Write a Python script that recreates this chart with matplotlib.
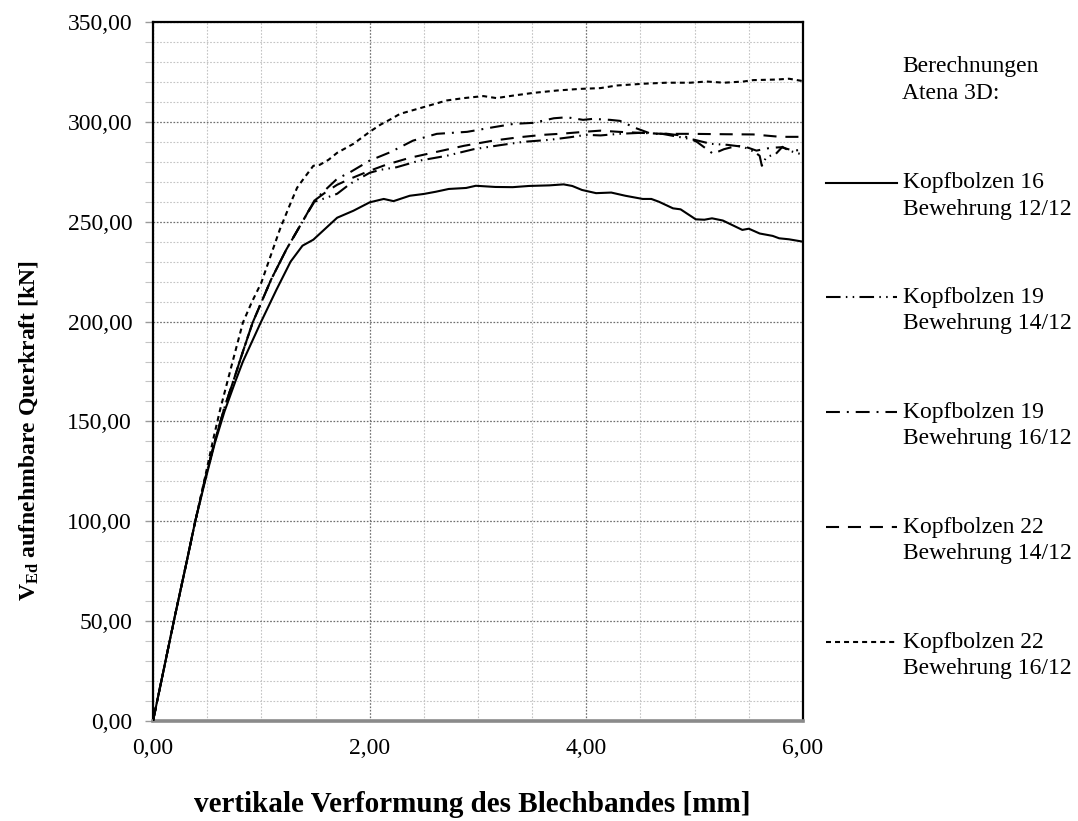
import matplotlib
matplotlib.use("Agg")
import matplotlib.pyplot as plt
import numpy as np
from matplotlib.lines import Line2D
from matplotlib.legend_handler import HandlerLine2D
from matplotlib.ticker import MultipleLocator, FuncFormatter

# Load-deformation curves (deformation [mm], shear force [kN])
kb16_b12 = [(0, 0), (0.10, 26), (0.20, 52), (0.30, 77), (0.39, 100), (0.48, 120),
            (0.57, 139), (0.66, 155), (0.76, 170), (0.83, 180), (0.99, 199), (1.14, 216),
            (1.27, 230), (1.38, 238), (1.48, 241), (1.54, 244), (1.70, 252), (1.85, 255.5),
            (2.00, 259.7), (2.13, 261.4), (2.22, 260.3), (2.37, 263), (2.50, 263.9),
            (2.61, 265), (2.73, 266.4), (2.89, 266.9), (2.98, 268), (3.16, 267.4),
            (3.32, 267.3), (3.47, 267.9), (3.66, 268.2), (3.79, 268.7), (3.87, 267.9),
            (3.96, 265.9), (4.09, 264.3), (4.23, 264.6), (4.36, 263), (4.52, 261.4),
            (4.60, 261.4), (4.67, 260), (4.80, 256.7), (4.87, 256.2), (5.01, 251.2),
            (5.09, 251), (5.16, 251.7), (5.26, 250.6), (5.44, 245.9), (5.50, 246.5),
            (5.60, 244.1), (5.72, 242.9), (5.78, 241.7), (5.87, 241.2), (6.00, 240)]

kb19_b14 = [(0, 0), (0.10, 26), (0.20, 52), (0.30, 77), (0.39, 100), (0.48, 121),
            (0.57, 140), (0.66, 157), (0.74, 170), (0.83, 185), (0.92, 199.5), (1.09, 221),
            (1.23, 236), (1.39, 251), (1.49, 260), (1.60, 262), (1.70, 264), (1.82, 269),
            (2.00, 274.5), (2.10, 276), (2.25, 277.3), (2.46, 280.6), (2.71, 283),
            (2.96, 286.3), (3.20, 288.3), (3.42, 290), (3.66, 291), (3.85, 292.3),
            (4.00, 293.5), (4.13, 293.2), (4.30, 294), (4.50, 294.5), (4.70, 294),
            (4.85, 292.5), (5.00, 291), (5.15, 289), (5.30, 288.5), (5.45, 287.5),
            (5.55, 285), (5.60, 283), (5.62, 278), (5.66, 282.3), (5.75, 284),
            (5.81, 287.5), (5.87, 285.6), (5.97, 284), (6.00, 284.5)]

kb19_b16 = [(0, 0), (0.10, 26), (0.20, 52), (0.30, 77), (0.39, 100), (0.48, 121),
            (0.57, 140), (0.66, 157), (0.74, 170), (0.83, 185), (0.92, 199.5), (1.09, 221),
            (1.23, 236), (1.39, 251), (1.49, 260.6), (1.60, 266.4), (1.70, 271.5),
            (1.82, 274.8), (2.00, 280.6), (2.19, 284.8), (2.40, 290.6), (2.62, 294),
            (2.90, 295), (3.14, 297.3), (3.33, 299), (3.51, 299.5), (3.70, 301.8),
            (3.82, 302.3), (3.97, 301), (4.06, 301.5), (4.22, 301), (4.31, 300.5),
            (4.45, 297), (4.60, 294), (4.75, 294), (4.90, 293), (5.02, 290), (5.17, 284),
            (5.27, 286.3), (5.39, 288), (5.48, 287.3), (5.57, 285.6), (5.70, 287),
            (5.80, 287.3), (5.91, 285.6), (6.00, 286)]

kb22_b14 = [(0, 0), (0.10, 26), (0.20, 52), (0.30, 77), (0.39, 100), (0.48, 121),
            (0.57, 140), (0.66, 157), (0.74, 170), (0.83, 185), (0.92, 199.5), (1.09, 221),
            (1.23, 236), (1.39, 251), (1.49, 260.6), (1.60, 265), (1.70, 268.5),
            (1.82, 271.5), (2.00, 275.5), (2.15, 278.5), (2.37, 282), (2.62, 285),
            (2.87, 288), (3.14, 290.6), (3.38, 292.3), (3.60, 293.5), (3.78, 294.1),
            (4.00, 295.1), (4.13, 295.6), (4.30, 295), (4.50, 294.5), (4.70, 294),
            (4.96, 294), (5.29, 293.8), (5.54, 293.7), (5.79, 292.5), (6.00, 292.5)]

kb22_b16 = [(0, 0), (0.10, 26), (0.20, 52), (0.30, 77), (0.39, 100), (0.48, 122),
            (0.56, 142), (0.62, 156), (0.74, 181), (0.83, 199.5), (0.91, 209.5),
            (1.00, 219.5), (1.08, 232), (1.17, 246), (1.26, 258), (1.33, 267),
            (1.39, 271.5), (1.48, 278), (1.54, 278.5), (1.62, 281), (1.70, 284.5),
            (1.85, 289), (2.00, 295), (2.10, 298.6), (2.20, 301.5), (2.28, 304),
            (2.50, 307.4), (2.71, 310.7), (2.87, 311.9), (3.05, 312.9), (3.17, 311.9),
            (3.33, 313.2), (3.51, 314.5), (3.73, 315.7), (3.94, 316.5), (4.13, 316.9),
            (4.28, 318.2), (4.53, 319.1), (4.74, 319.6), (4.96, 319.6), (5.11, 320.2),
            (5.27, 319.6), (5.45, 320.2), (5.54, 320.9), (5.76, 321.2), (5.87, 321.6),
            (6.00, 320.4)]

series_labels = ["Kopfbolzen 16\nBewehrung 12/12",
                 "Kopfbolzen 19\nBewehrung 14/12",
                 "Kopfbolzen 19\nBewehrung 16/12",
                 "Kopfbolzen 22\nBewehrung 14/12",
                 "Kopfbolzen 22\nBewehrung 16/12"]
series_data = [kb16_b12, kb19_b14, kb19_b16, kb22_b14, kb22_b16]
series_styles = ["-",
                 (0, (10.5, 3.8, 1.1, 3.8, 1.1, 3.8)),
                 (0, (10.0, 5.0, 1.4, 5.0)),
                 (0, (9.4, 6.4)),
                 (0, (3.6, 2.9))]

legend_title = "Berechnungen\nAtena 3D:"
x_label = "vertikale Verformung des Blechbandes [mm]"
y_label = r"$\mathbf{V_{Ed}}$ aufnehmbare Querkraft [kN]"

plt.rcParams["font.family"] = ["Liberation Serif", "DejaVu Serif"]
plt.rcParams["mathtext.fontset"] = "custom"
plt.rcParams["mathtext.rm"] = "Liberation Serif"
plt.rcParams["mathtext.bf"] = "Liberation Serif:bold"
plt.rcParams["lines.scale_dashes"] = False

fig = plt.figure(figsize=(10.78, 8.21), dpi=100)
ax = fig.add_axes([153 / 1078, 1 - 721 / 821, 650 / 1078, 699 / 821])

for data, lab, ls in zip(series_data, series_labels, series_styles):
    arr = np.array(data)
    ax.plot(arr[:, 0], arr[:, 1], color="black", lw=1.5, ls=ls, label=lab,
            solid_joinstyle="round", dash_capstyle="butt", zorder=3)

ax.set_xlim(0, 6)
ax.set_ylim(0, 350)
ax.xaxis.set_major_locator(MultipleLocator(2))
ax.xaxis.set_minor_locator(MultipleLocator(0.5))
ax.yaxis.set_major_locator(MultipleLocator(50))
ax.yaxis.set_minor_locator(MultipleLocator(10))
comma = FuncFormatter(lambda v, p: f"{v:.2f}".replace(".", ","))
ax.xaxis.set_major_formatter(comma)
ax.yaxis.set_major_formatter(comma)

ax.grid(which="minor", color="#c4c4c4", ls=(0, (1.2, 1.2)), lw=0.8, zorder=0)
ax.grid(which="major", color="#6e6e6e", ls=(0, (1.2, 1.2)), lw=0.9, zorder=1)
ax.set_axisbelow(True)

ax.tick_params(axis="x", which="both", length=0, pad=12, labelsize=17)
ax.tick_params(axis="y", which="major", length=6, width=1, color="#9a9a9a",
               pad=9, labelsize=17)
ax.tick_params(axis="y", which="minor", length=6, width=0.8, color="#c4c4c4")

for side in ("left", "right", "top"):
    ax.spines[side].set_linewidth(1.6)
    ax.spines[side].set_color("black")
ax.spines["bottom"].set_linewidth(2.6)
ax.spines["bottom"].set_color("#8a8a8a")

ax.set_xlabel(x_label, fontsize=21, fontweight="bold")
ax.xaxis.set_label_coords(0.491, -0.100)
ax.set_ylabel(y_label, fontsize=17, fontweight="bold")
ax.yaxis.set_label_coords(-0.174, 0.415)


class FirstLineHandler(HandlerLine2D):
    """Places the legend line at the height of the first text row."""
    def create_artists(self, legend, orig_handle, xdescent, ydescent, width,
                       height, fontsize, trans):
        artists = super().create_artists(legend, orig_handle, xdescent, ydescent,
                                         width, height, fontsize, trans)
        for a in artists:
            if isinstance(a, Line2D):
                yd = np.asarray(a.get_ydata(), dtype=float)
                a.set_ydata(yd + 0.55 * fontsize)
        return artists


handles, labels = ax.get_legend_handles_labels()
leg = fig.legend(handles, labels, loc="upper left",
                 bbox_to_anchor=(826 / 1078, 1 - 172 / 821),
                 frameon=False, fontsize=17, handlelength=3.0, handletextpad=0.25,
                 labelspacing=2.85, borderpad=0, borderaxespad=0,
                 handler_map={Line2D: FirstLineHandler()})
for t in leg.get_texts():
    t.set_linespacing(1.35)

fig.text(902 / 1078, 1 - 56 / 821, legend_title, fontsize=17, ha="left", va="top",
         linespacing=1.35)

fig.savefig("out.png", dpi=100)
